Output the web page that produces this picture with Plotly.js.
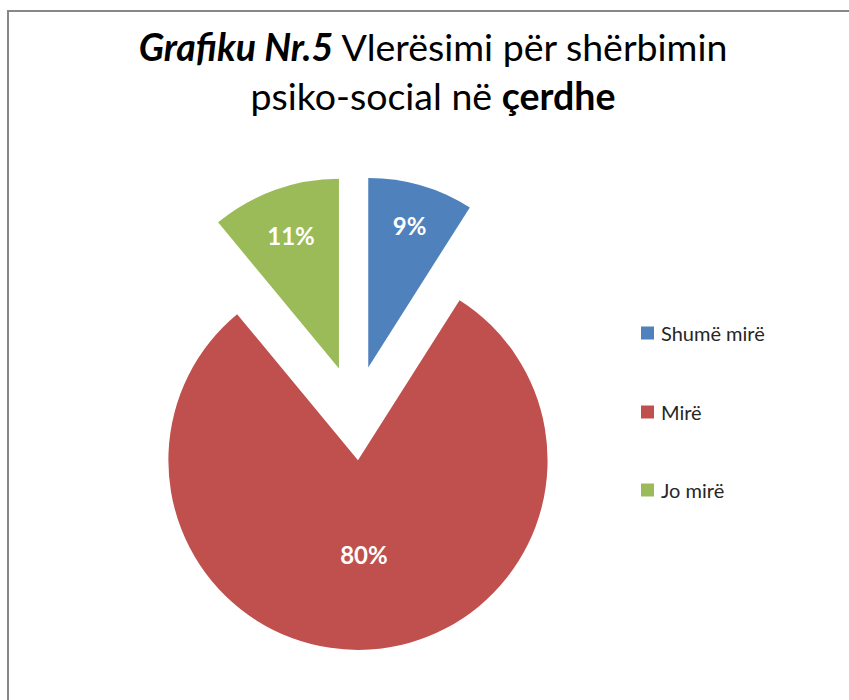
<!DOCTYPE html>
<html>
<head>
<meta charset="utf-8">
<script src="https://cdn.plot.ly/plotly-3.0.1.min.js"></script>
<style>
  html, body { margin: 0; padding: 0; background: #ffffff; }
  #wrap { position: relative; width: 849px; height: 700px; overflow: hidden; background: #ffffff; }
  #frame { position: absolute; left: 7px; top: 10px; width: 900px; height: 800px;
           border-left: 2px solid #878787; border-top: 2px solid #878787; }
  #chart { position: absolute; left: 0; top: 0; width: 849px; height: 700px; }
</style>
</head>
<body>
<div id="wrap">
  <div id="frame"></div>
  <div id="chart"></div>
</div>
<script>
const categories = ["Shumë mirë", "Mirë", "Jo mirë"];
const values = [9, 80, 11];
const colors = ["#4F81BD", "#C0504D", "#9BBB59"];
const titleText = "<i><b>Grafiku Nr.5</b></i> Vlerësimi për shërbimin<br>psiko-social në <b>çerdhe</b>";

const FONT = "Lato, 'Open Sans', sans-serif";

const trace = {
  type: "pie",
  labels: categories,
  values: values,
  sort: false,
  direction: "clockwise",
  rotation: 0,
  pull: [0.25, 0.25, 0.25],
  marker: { colors: colors, line: { width: 0 } },
  textinfo: "percent",
  texttemplate: "%{percent:.0%}",
  textposition: "inside",
  insidetextorientation: "horizontal",
  insidetextfont: { family: FONT, size: 24, color: "#ffffff", weight: "bold" },
  showlegend: false,
  hoverinfo: "label+percent",
  domain: { x: [116/849, 594/849], y: [1 - 650/700, 1 - 176/700] }
};

const legendY = [333, 412, 490];
const annotations = [];
const shapes = [];
categories.forEach((c, i) => {
  const yp = 1 - legendY[i] / 700;
  shapes.push({
    type: "rect", xref: "paper", yref: "paper",
    x0: 641/849, x1: 654/849, y0: yp - 6.5/700, y1: yp + 6.5/700,
    fillcolor: colors[i], line: { width: 0 }
  });
  annotations.push({
    xref: "paper", yref: "paper", x: 659/849, y: yp,
    xanchor: "left", yanchor: "middle", showarrow: false,
    text: c, font: { family: FONT, size: 20, color: "#262626" }
  });
});

const layout = {
  width: 849, height: 700,
  margin: { l: 0, r: 0, t: 0, b: 0 },
  paper_bgcolor: "rgba(0,0,0,0)",
  plot_bgcolor: "rgba(0,0,0,0)",
  title: {
    text: titleText,
    x: 433/849, xanchor: "center",
    y: 1 - 61/700, yanchor: "middle",
    font: { family: FONT, size: 37.5, color: "#000000" }
  },
  showlegend: false,
  shapes: shapes,
  annotations: annotations
};

Plotly.newPlot("chart", [trace], layout, { displayModeBar: false, staticPlot: true });
</script>
</body>
</html>
